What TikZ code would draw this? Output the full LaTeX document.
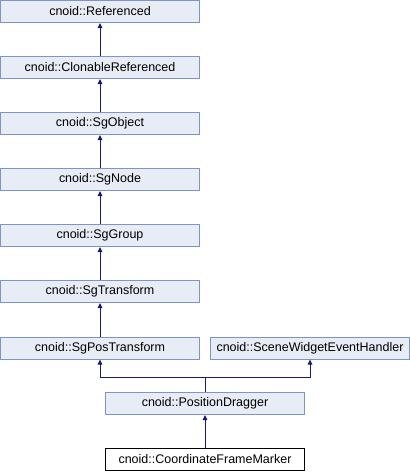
\documentclass[tikz,border=0pt]{standalone}
\usepackage{fontspec}
\setmainfont{Liberation Sans}
\usetikzlibrary{arrows.meta}
\definecolor{boxfill}{RGB}{232,236,245}
\definecolor{boxdraw}{RGB}{124,148,200}
\definecolor{edge}{RGB}{25,25,112}
\begin{document}
\begin{tikzpicture}[x=1pt,y=-1pt,
  cls/.style={draw=boxdraw,fill=boxfill,line width=1pt,minimum width=199pt,minimum height=22pt,inner sep=0pt,font=\fontsize{12.5}{14}\selectfont},
  curcls/.style={draw=black,fill=white,line width=1pt,minimum width=199pt,minimum height=22pt,inner sep=0pt,font=\fontsize{12.5}{14}\selectfont},
  inh/.style={draw=edge,line width=1pt,-{Triangle[width=4.5pt,length=5pt]}}]
\useasboundingbox (0,0) rectangle (410,472);
\node[cls] (ref) at (100,11.5) {cnoid::Referenced};
\node[cls] (clo) at (100,67.5) {cnoid::ClonableReferenced};
\node[cls] (obj) at (100,123.5) {cnoid::SgObject};
\node[cls] (nod) at (100,179.5) {cnoid::SgNode};
\node[cls] (grp) at (100,235.5) {cnoid::SgGroup};
\node[cls] (trf) at (100,291.5) {cnoid::SgTransform};
\node[cls] (pos) at (100,348) {cnoid::SgPosTransform};
\node[cls] (swe) at (310,348) {cnoid::SceneWidgetEventHandler};
\node[cls] (drg) at (205,403.5) {cnoid::PositionDragger};
\node[curcls] (cfm) at (205,459.5) {cnoid::CoordinateFrameMarker};
\coordinate (j) at (205,377);
\draw[inh] (clo) -- (ref);
\draw[inh] (obj) -- (clo);
\draw[inh] (nod) -- (obj);
\draw[inh] (grp) -- (nod);
\draw[inh] (trf) -- (grp);
\draw[inh] (pos) -- (trf);
\draw[inh] (cfm) -- (drg);
\draw[draw=edge,line width=1pt] (drg.north) -- (j);
\draw[inh] (j) -| (pos.south);
\draw[inh] (j) -| (swe.south);
\end{tikzpicture}
\end{document}
